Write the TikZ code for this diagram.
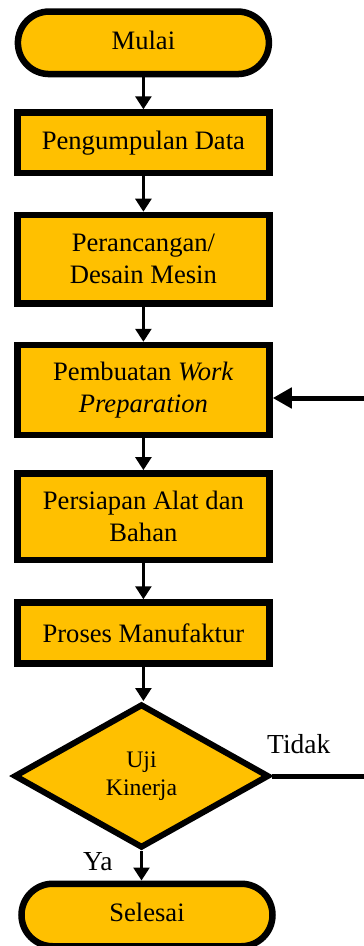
\documentclass[tikz,border=0pt]{standalone}
\usepackage{fontspec}
\setmainfont{Liberation Serif}
\usetikzlibrary{arrows.meta,shapes.geometric,calc}
\definecolor{ylw}{HTML}{FFC000}
\begin{document}
\begin{tikzpicture}[x=1pt,y=-1pt,
  box/.style={draw,line width=6.5pt,fill=ylw,rectangle,inner sep=0pt,minimum width=252.2pt,align=center,font=\fontsize{26.6}{32}\selectfont},
  pill/.style={box,rounded corners=31.25pt,minimum width=251pt,minimum height=62.5pt},
  dec/.style={draw,line width=6pt,fill=ylw,diamond,inner sep=0pt,minimum width=255pt,minimum height=144pt,align=center,font=\fontsize{23.7}{28}\selectfont},
  arr/.style={line width=2.7pt,-{Triangle[length=13pt,width=16pt]}},
  fb/.style={line width=5pt,-{Triangle[length=19pt,width=20pt]}},
  lbl/.style={font=\fontsize{27.5}{32}\selectfont,inner sep=0pt,anchor=base west}]
\useasboundingbox (0,0) rectangle (364,946);
\node[pill] (mulai) at (143.4,42.8) {\strut Mulai};
\node[box,minimum height=60.5pt] (data) at (143.4,142.8) {Pengumpulan Data};
\node[box,minimum height=88.5pt] (desain) at (143.4,259.2) {Perancangan/\\Desain Mesin};
\node[box,minimum height=90pt] (wp) at (143.4,390) {Pembuatan \textit{Work}\\\textit{Preparation}};
\node[box,minimum height=86.7pt] (alat) at (143.4,516.7) {Persiapan Alat dan\\Bahan};
\node[box,minimum height=61pt] (proses) at (143.4,633) {Proses Manufaktur};
\node[dec] (uji) at (141.5,776) {Uji\\Kinerja};
\node[pill] (selesai) at (147,915) {\strut Selesai};
\draw[arr] (mulai.south) -- (data.north);
\draw[arr] (data.south) -- (desain.north);
\draw[arr] (desain.south) -- (wp.north);
\draw[arr] (wp.south) -- (alat.north);
\draw[arr] (alat.south) -- (proses.north);
\draw[arr] (proses.south) -- (proses.south |- uji.north);
\draw[arr] (uji.south) -- (uji.south |- selesai.north);
\coordinate (fbc) at (390,776);
\coordinate (fbt) at (390,398);
\draw[fb] (uji.east) -- (fbc) -- (fbt) -- (wp.east |- fbt);
\node[lbl] (tidak) at (267,753) {Tidak};
\node[lbl] (ya) at (83,870) {Ya};
\end{tikzpicture}
\end{document}
